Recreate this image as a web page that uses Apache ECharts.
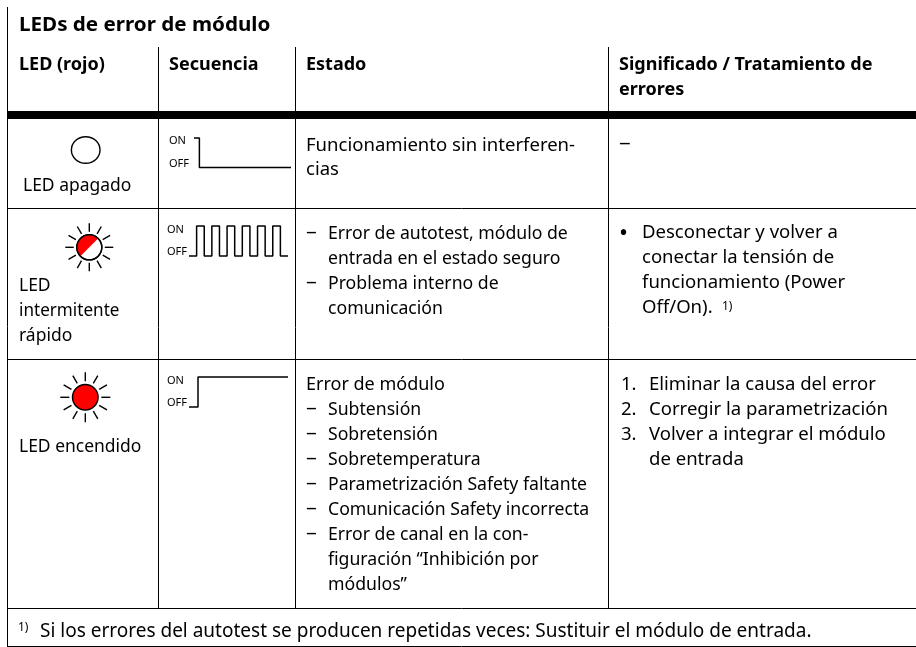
<!DOCTYPE html>
<html>
<head>
<meta charset="utf-8">
<title>LEDs de error de módulo</title>
<script src="https://cdn.jsdelivr.net/npm/echarts@6/dist/echarts.min.js"></script>
<style>
  html, body { margin: 0; padding: 0; background: #fff; }
  #chart { width: 916px; height: 647px; }
</style>
</head>
<body>
<div id="chart"></div>
<script>
// Table text
var title = "LEDs de error de módulo";
var headers = ["LED (rojo)", "Secuencia", "Estado", "Significado / Tratamiento de", "errores"];
var ledLabels = ["LED apagado", "LED", "intermitente", "rápido", "LED encendido"];
var estadoApagado = ["Funcionamiento sin interferen-", "cias"];
var estadoRapido = ["Error de autotest, módulo de", "entrada en el estado seguro", "Problema interno de", "comunicación"];
var estadoEncendido = ["Error de módulo", "Subtensión", "Sobretensión", "Sobretemperatura", "Parametrización Safety faltante", "Comunicación Safety incorrecta", "Error de canal en la con-", "figuración “Inhibición por", "módulos”"];
var tratamientoRapido = ["Desconectar y volver a", "conectar la tensión de", "funcionamiento (Power", "Off/On)."];
var tratamientoEncendido = ["Eliminar la causa del error", "Corregir la parametrización", "Volver a integrar el módulo", "de entrada"];
var nota = "Si los errores del autotest se producen repetidas veces: Sustituir el módulo de entrada.";

// Signal levels over time: 1 = ON, 0 = OFF
var seqApagadoT = [0, 1, 1, 18];
var seqApagadoV = [1, 1, 0, 0];
var seqRapidoT = [0, 1, 1, 2, 2, 3, 3, 4, 4, 5, 5, 6, 6, 7, 7, 8, 8, 9, 9, 10, 10, 11, 11, 12, 12, 13];
var seqRapidoV = [0, 0, 1, 1, 0, 0, 1, 1, 0, 0, 1, 1, 0, 0, 1, 1, 0, 0, 1, 1, 0, 0, 1, 1, 0, 0];
var seqEncendidoT = [0, 1, 1, 11];
var seqEncendidoV = [0, 0, 1, 1];

var FONT = "Noto Sans";
var graphics = [];

function hline(x1, x2, y, w) {
  graphics.push({ type: "line", shape: { x1: x1, y1: y, x2: x2, y2: y }, style: { stroke: "#000", lineWidth: w || 1 } });
}
function vline(x, y1, y2) {
  graphics.push({ type: "line", shape: { x1: x, y1: y1, x2: x, y2: y2 }, style: { stroke: "#000", lineWidth: 1 } });
}
// y is the baseline of the text
function label(text, x, y, opt) {
  opt = opt || {};
  var size = opt.size || 18;
  graphics.push({
    type: "text",
    x: x,
    y: y - size * 0.36,
    scaleX: opt.scaleX || 1,
    style: {
      text: text,
      x: 0,
      y: 0,
      fill: "#000",
      font: (opt.bold ? "bold " : "") + size + "px '" + FONT + "'",
      verticalAlign: "middle"
    }
  });
}
function ledRays(cx, cy, r1, r2) {
  for (var i = 0; i < 12; i++) {
    var a = i * Math.PI / 6;
    graphics.push({
      type: "line",
      shape: { x1: cx + r1 * Math.cos(a), y1: cy + r1 * Math.sin(a), x2: cx + r2 * Math.cos(a), y2: cy + r2 * Math.sin(a) },
      style: { stroke: "#000", lineWidth: 1.4 }
    });
  }
}
function ledCircle(cx, cy, r, fill) {
  graphics.push({ type: "circle", shape: { cx: cx, cy: cy, r: r }, style: { fill: fill, stroke: "#000", lineWidth: 1.4 } });
}

// rules
vline(7.5, 7, 646);
vline(158.5, 47, 608);
vline(295.5, 47, 608);
vline(608.5, 47, 608);
hline(7, 916, 115, 8);
hline(7, 916, 208.5);
hline(7, 916, 359.5);
hline(7, 916, 608.5);
hline(7, 916, 646.5);

// title and headers
label(title, 19, 32, { bold: true, size: 20, scaleX: 1.03 });
label(headers[0], 19, 71, { bold: true });
label(headers[1], 169, 71, { bold: true });
label(headers[2], 306, 71, { bold: true });
label(headers[3], 619, 71, { bold: true });
label(headers[4], 619, 96.5, { bold: true });

// LED column
graphics.push({ type: "ellipse", shape: { cx: 85.7, cy: 150, rx: 14.3, ry: 13.3 }, style: { fill: "#fff", stroke: "#000", lineWidth: 1.4 } });
label(ledLabels[0], 23, 192, { scaleX: 0.97 });
ledRays(89.3, 247.3, 15.5, 24);
ledCircle(89.3, 247.3, 12.5, "#fff");
graphics.push({
  type: "sector",
  shape: { cx: 89.3, cy: 247.3, r: 12.5, r0: 0, startAngle: Math.PI * 0.75, endAngle: Math.PI * 1.75, clockwise: true },
  style: { fill: "#f00" }
});
graphics.push({ type: "circle", shape: { cx: 89.3, cy: 247.3, r: 12.5 }, style: { fill: "none", stroke: "#000", lineWidth: 1.4 } });
label(ledLabels[1], 19, 292, { scaleX: 0.97 });
label(ledLabels[2], 19, 317, { scaleX: 0.95 });
label(ledLabels[3], 19, 342, { scaleX: 0.97 });
ledRays(85.3, 397.3, 16, 25);
ledCircle(85.3, 397.3, 12.8, "#f00");
label(ledLabels[4], 19, 453, { scaleX: 0.97 });

// ON / OFF labels
[[145, 168], [234, 256], [385, 406.7]].forEach(function (p, i) {
  label("ON", i === 0 ? 169 : 167, p[0], { size: 11 });
  label("OFF", i === 0 ? 169 : 167, p[1], { size: 11 });
});

// Estado column
estadoApagado.forEach(function (t, i) { label(t, 306, 152 + i * 24.5, { scaleX: 1.03 }); });
estadoRapido.forEach(function (t, i) {
  if (i === 0 || i === 2) label("–", 306, 239 + i * 25, { scaleX: 1.2 });
  label(t, 328, 240 + i * 25, { scaleX: 0.98 });
});
label(estadoEncendido[0], 306, 391);
estadoEncendido.slice(1).forEach(function (t, i) {
  if (i < 6) label("–", 306, 415 + i * 25, { scaleX: 1.2 });
  label(t, 328, 416.3 + i * 25, { scaleX: 0.98 });
});

// Significado column
label("–", 619, 150, { scaleX: 1.3 });
label("•", 619, 243, { size: 24 });
tratamientoRapido.forEach(function (t, i) { label(t, 642, 239.5 + i * 25, { scaleX: 1.03 }); });
label("1)", 722, 311, { size: 12 });
tratamientoEncendido.forEach(function (t, i) {
  if (i < 3) label((i + 1) + ".", 621, 391 + i * 25, { scaleX: 1.03 });
  label(t, 649, 391 + i * 25, { scaleX: 1.03 });
});

// footnote
label("1)", 18, 632, { size: 12 });
label(nota, 40, 638.3, { size: 19, scaleX: 1.0 });

var chart = echarts.init(document.getElementById("chart"), null, { renderer: "canvas" });

function signalGrid(left, top, width, height) {
  return { left: left, top: top, width: width, height: height };
}
function signalAxis(idx, max) {
  return { type: "value", gridIndex: idx, min: 0, max: max, show: false };
}
function levelAxis(idx) {
  return { type: "value", gridIndex: idx, min: 0, max: 1, show: false };
}
function signalSeries(idx, t, v) {
  return {
    type: "line",
    xAxisIndex: idx,
    yAxisIndex: idx,
    data: t.map(function (x, i) { return [x, v[i]]; }),
    symbol: "none",
    silent: true,
    clip: false,
    lineStyle: { color: "#000", width: 1.5 }
  };
}

chart.setOption({
  backgroundColor: "#fff",
  animation: false,
  grid: [
    signalGrid(194, 138, 97, 29.5),
    signalGrid(189, 226, 99, 30),
    signalGrid(189, 377, 99, 30)
  ],
  xAxis: [signalAxis(0, 18), signalAxis(1, 13), signalAxis(2, 11)],
  yAxis: [levelAxis(0), levelAxis(1), levelAxis(2)],
  series: [
    signalSeries(0, seqApagadoT, seqApagadoV),
    signalSeries(1, seqRapidoT, seqRapidoV),
    signalSeries(2, seqEncendidoT, seqEncendidoV)
  ],
  graphic: graphics
});
</script>
</body>
</html>
